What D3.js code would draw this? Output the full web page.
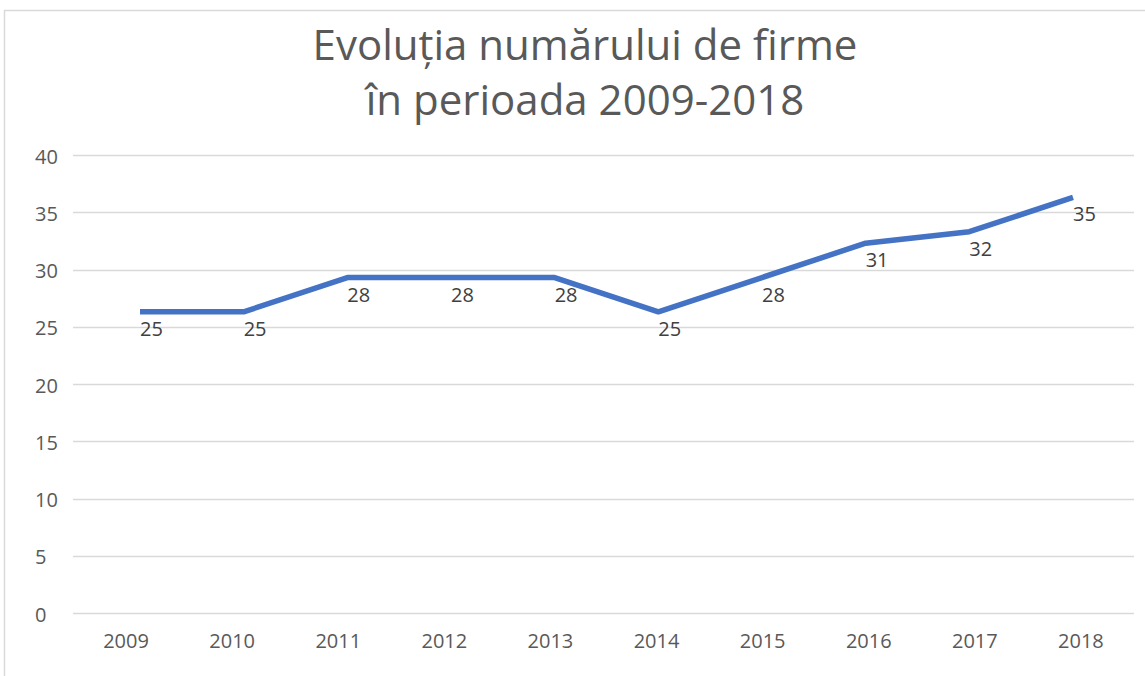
<!DOCTYPE html>
<html>
<head>
<meta charset="utf-8">
<script src="https://cdn.jsdelivr.net/npm/d3@7"></script>
<style>
  body { margin: 0; background: #fff; }
  text { font-family: "Open Sans", "DejaVu Sans", sans-serif; }
</style>
</head>
<body>
<script>
// chart data
const years = ["2009", "2010", "2011", "2012", "2013", "2014", "2015", "2016", "2017", "2018"];
const plotted = [26.3, 26.3, 29.3, 29.3, 29.3, 26.3, 29.3, 32.3, 33.3, 36.3];
const labels = ["25", "25", "28", "28", "28", "25", "28", "31", "32", "35"];
const yTicks = [0, 5, 10, 15, 20, 25, 30, 35, 40];
const titleLines = ["Evoluția numărului de firme", "în perioada 2009-2018"];

const W = 1145, H = 676;

const svg = d3.select("body").append("svg")
  .attr("width", W)
  .attr("height", H);

// outer chart border (runs off the right and bottom edges)
svg.append("rect")
  .attr("x", 4.5).attr("y", 10.5)
  .attr("width", W + 10).attr("height", H + 10)
  .attr("fill", "none")
  .attr("stroke", "#d9d9d9")
  .attr("stroke-width", 1.5);

// title
svg.append("g")
  .selectAll("text")
  .data(titleLines)
  .enter()
  .append("text")
  .attr("x", 585)
  .attr("y", (d, i) => 60 + i * 55)
  .attr("text-anchor", "middle")
  .attr("fill", "#595959")
  .attr("font-size", 42)
  .text(d => d);

// scales
const y = d3.scaleLinear().domain([0, 40]).range([613, 155]);
const xBand = d3.scaleBand().domain(years).range([73, 1134]);
const xLine = d3.scalePoint().domain(years).range([140, 1073]);

// gridlines
svg.append("g")
  .selectAll("line")
  .data(yTicks)
  .enter()
  .append("line")
  .attr("x1", 73).attr("x2", 1134)
  .attr("y1", d => Math.round(y(d)) + 0.5)
  .attr("y2", d => Math.round(y(d)) + 0.5)
  .attr("stroke", "#d9d9d9")
  .attr("stroke-width", 1.5);

// y tick labels
svg.append("g")
  .selectAll("text")
  .data(yTicks)
  .enter()
  .append("text")
  .attr("x", 35)
  .attr("y", d => y(d) + 8.5)
  .attr("fill", "#595959")
  .attr("font-size", 20)
  .text(d => d);

// x tick labels
svg.append("g")
  .selectAll("text")
  .data(years)
  .enter()
  .append("text")
  .attr("x", d => xBand(d) + xBand.bandwidth() / 2)
  .attr("y", 648)
  .attr("text-anchor", "middle")
  .attr("fill", "#595959")
  .attr("font-size", 20)
  .text(d => d);

// the line
const line = d3.line()
  .x((d, i) => xLine(years[i]))
  .y(d => y(d));

svg.append("path")
  .datum(plotted)
  .attr("d", line)
  .attr("fill", "none")
  .attr("stroke", "#4472c4")
  .attr("stroke-width", 5.5)
  .attr("stroke-linejoin", "round");

// data labels
svg.append("g")
  .selectAll("text")
  .data(plotted)
  .enter()
  .append("text")
  .attr("x", (d, i) => xLine(years[i]))
  .attr("y", d => y(d) + 24)
  .attr("fill", "#404040")
  .attr("font-size", 20)
  .text((d, i) => labels[i]);
</script>
</body>
</html>
